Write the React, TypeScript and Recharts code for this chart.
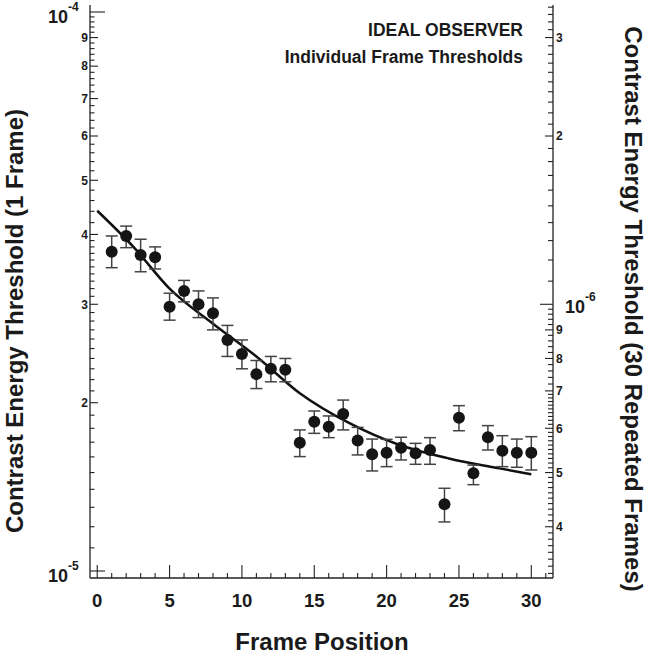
import React from 'react';
import { ComposedChart, Scatter, Line, XAxis, YAxis, ErrorBar } from 'recharts';

// Frame positions (x) and ideal-observer thresholds, in units of 1e-5 (left axis)
const framePositions = [1, 2, 3, 4, 5, 6, 7, 8, 9, 10, 11, 12, 13, 14, 15, 16, 17, 18, 19, 20, 21, 22, 23, 24, 25, 26, 27, 28, 29, 30];
const thresholds = [3.725, 3.975, 3.675, 3.64, 2.97, 3.17, 3.0, 2.89, 2.59, 2.445, 2.25, 2.3, 2.29, 1.696, 1.849, 1.812, 1.909, 1.711, 1.617, 1.628, 1.662, 1.624, 1.646, 1.316, 1.88, 1.496, 1.735, 1.641, 1.628, 1.628];
const upperBounds = [3.975, 4.14, 3.922, 3.8, 3.14, 3.31, 3.17, 3.08, 2.75, 2.59, 2.38, 2.42, 2.4, 1.788, 1.933, 1.894, 2.022, 1.807, 1.722, 1.72, 1.735, 1.692, 1.732, 1.406, 1.976, 1.547, 1.82, 1.746, 1.722, 1.739];
const lowerBounds = [3.488, 3.788, 3.43, 3.47, 2.81, 3.03, 2.84, 2.7, 2.42, 2.3, 2.12, 2.18, 2.18, 1.602, 1.763, 1.732, 1.788, 1.613, 1.51, 1.537, 1.58, 1.552, 1.552, 1.224, 1.782, 1.427, 1.646, 1.537, 1.533, 1.516];

// Fitted curve
const fitPositions = [0, 2.5, 5, 8, 11, 14, 17.4, 20.9, 24.3, 27.8, 30];
const fitThresholds = [4.41, 3.8, 3.2, 2.77, 2.42, 2.08, 1.84, 1.68, 1.59, 1.526, 1.49];

// Axis setup
const xDomain = [-0.5, 31.5];
const xTicks = [0, 1, 2, 3, 4, 5, 6, 7, 8, 9, 10, 11, 12, 13, 14, 15, 16, 17, 18, 19, 20, 21, 22, 23, 24, 25, 26, 27, 28, 29, 30, 31];
const xLabelTicks = [0, 5, 10, 15, 20, 25, 30];

const leftDomain = [0.9716, 10.292]; // units of 1e-5
const leftMajor = [1, 2, 3, 4, 5, 6, 7, 8, 9, 10];
const leftDecades = [1, 10];
const leftDecadeExp: Record<number, string> = { 1: '-5', 10: '-4' };

const REPEAT_FACTOR = 30; // 30 repeated frames; right axis in units of 1e-6
const rightDomain = [leftDomain[0] * 10 / REPEAT_FACTOR, leftDomain[1] * 10 / REPEAT_FACTOR];
const rightMajor = [0.4, 0.5, 0.6, 0.7, 0.8, 0.9, 1, 2, 3];
const rightDecades = [1];
const rightDecadeExp: Record<number, string> = { 1: '-6' };

const steps = (from: number, to: number, step: number) => {
  const out: number[] = [];
  for (let v = from; v <= to + 1e-9; v += step) out.push(Math.round(v * 100) / 100);
  return out;
};

const leftMinor = [
  ...steps(1.1, 1.9, 0.1), ...steps(2.1, 2.9, 0.1), ...steps(3.1, 3.9, 0.1),
  ...steps(4.2, 4.8, 0.2), ...steps(5.2, 5.8, 0.2), ...steps(6.2, 6.8, 0.2),
  ...steps(7.2, 7.8, 0.2), ...steps(8.2, 8.8, 0.2), ...steps(9.2, 9.8, 0.2),
];
const rightMinor = [
  ...steps(0.33, 0.39, 0.01), ...steps(0.41, 0.49, 0.01), ...steps(0.51, 0.59, 0.01),
  ...steps(0.61, 0.69, 0.01), ...steps(0.72, 0.78, 0.02), ...steps(0.82, 0.88, 0.02),
  ...steps(0.92, 0.98, 0.02), ...steps(1.1, 1.9, 0.1), ...steps(2.1, 2.9, 0.1), ...steps(3.1, 3.4, 0.1),
];
const leftTicks = [...leftMajor, ...leftMinor].sort((a, b) => a - b);
const rightTicks = [...rightMajor, ...rightMinor].sort((a, b) => a - b);

const pointData = framePositions.map((x, i) => ({
  x,
  y: thresholds[i],
  err: [thresholds[i] - lowerBounds[i], upperBounds[i] - thresholds[i]],
}));
const fitData = fitPositions.map((x, i) => ({ x, y: fitThresholds[i] }));

const FONT = '"Liberation Sans", Arial, Helvetica, sans-serif';
const INK = '#1a1a1a';
const AXIS = '#222';

const LeftTick = (props: any) => {
  const { x, y, payload } = props;
  const v = payload.value;
  const decade = leftDecades.includes(v);
  const major = leftMajor.includes(v);
  const len = decade ? 15 : major ? 8 : 4.5;
  return (
    <g>
      <line x1={x} x2={x + len} y1={y} y2={y} stroke={AXIS} strokeWidth={1.1} />
      {decade ? (
        <g fontFamily={FONT} fontWeight="bold" fill={INK}>
          <text x={x - 22} y={y + 11} textAnchor="end" fontSize={18}>10</text>
          <text x={x - 22} y={y - 1} fontSize={12}>{leftDecadeExp[v]}</text>
        </g>
      ) : major ? (
        <text x={x - 2} y={y + 4.3} textAnchor="end" fontSize={12} fontFamily={FONT} fontWeight="bold" fill={INK}>{v}</text>
      ) : null}
    </g>
  );
};

const RightTick = (props: any) => {
  const { x, y, payload } = props;
  const v = payload.value;
  const decade = rightDecades.includes(v);
  const major = rightMajor.includes(v);
  const len = decade ? 13 : major ? 8 : 5;
  const label = v < 1 ? String(Math.round(v * 10)) : String(v);
  return (
    <g>
      <line x1={x} x2={x - len} y1={y} y2={y} stroke={AXIS} strokeWidth={1.1} />
      {decade ? (
        <g fontFamily={FONT} fontWeight="bold" fill={INK}>
          <text x={x + 12} y={y + 9} fontSize={18}>10</text>
          <text x={x + 32} y={y - 3} fontSize={12}>{rightDecadeExp[v]}</text>
        </g>
      ) : major ? (
        <text x={x + 3} y={y + 4.3} fontSize={12} fontFamily={FONT} fontWeight="bold" fill={INK}>{label}</text>
      ) : null}
    </g>
  );
};

const BottomTick = (props: any) => {
  const { x, y, payload } = props;
  const v = payload.value;
  const major = xLabelTicks.includes(v);
  return (
    <g>
      <line x1={x} x2={x} y1={y} y2={y - (major ? 13 : 5)} stroke={AXIS} strokeWidth={1.1} />
      {major ? (
        <text x={x} y={y + 29} textAnchor="middle" fontSize={18.5} fontFamily={FONT} fontWeight="bold" fill={INK}>{v}</text>
      ) : null}
    </g>
  );
};

const Dot = (props: any) => <circle cx={props.cx} cy={props.cy} r={6} fill="#151515" />;

export default function App() {
  return (
    <div style={{ position: 'absolute', left: 0, top: 0, width: 648, height: 656, background: '#fff' }}>
      <ComposedChart width={648} height={656} margin={{ top: 5, right: 0, bottom: 0, left: 0 }}>
        <XAxis
          xAxisId="b" dataKey="x" type="number" domain={xDomain} ticks={xTicks} interval={0}
          allowDataOverflow height={78} tickSize={0} tickMargin={0} tick={BottomTick}
          axisLine={{ stroke: AXIS, strokeWidth: 1.3 }} tickLine={false}
        />
        <XAxis
          xAxisId="t" orientation="top" type="number" domain={xDomain} height={0} tick={false}
          axisLine={{ stroke: AXIS, strokeWidth: 1.3 }} tickLine={false} allowDataOverflow
        />
        <YAxis
          yAxisId="l" dataKey="y" type="number" scale="log" domain={leftDomain} allowDataOverflow
          ticks={leftTicks} interval={0} width={90} tickSize={0} tickMargin={0} tick={LeftTick}
          axisLine={{ stroke: AXIS, strokeWidth: 1.3 }} tickLine={false}
        />
        <YAxis
          yAxisId="r" orientation="right" type="number" scale="log" domain={rightDomain} allowDataOverflow
          ticks={rightTicks} interval={0} width={95} tickSize={0} tickMargin={0} tick={RightTick}
          axisLine={{ stroke: AXIS, strokeWidth: 1.3 }} tickLine={false}
        />
        <Line
          data={fitData} xAxisId="b" yAxisId="l" dataKey="y" type="monotone" dot={false}
          stroke="#111" strokeWidth={2.5} isAnimationActive={false} activeDot={false}
        />
        <Scatter data={pointData} xAxisId="b" yAxisId="l" dataKey="y" shape={Dot} isAnimationActive={false}>
          <ErrorBar dataKey="err" direction="y" width={6} stroke="#444" strokeWidth={1.5} />
        </Scatter>
      </ComposedChart>
      <svg width={648} height={656} style={{ position: 'absolute', left: 0, top: 0, pointerEvents: 'none' }}>
        <g fontFamily={FONT} fontWeight="bold" fill={INK}>
          <text x={23} y={321} fontSize={24} textAnchor="middle" transform="rotate(-90 23 321)">Contrast Energy Threshold (1 Frame)</text>
          <text x={625} y={309} fontSize={24} textAnchor="middle" transform="rotate(90 625 309)">Contrast Energy Threshold (30 Repeated Frames)</text>
          <text x={322} y={650} fontSize={24} textAnchor="middle">Frame Position</text>
          <text x={523} y={36} fontSize={17.5} textAnchor="end">IDEAL OBSERVER</text>
          <text x={523} y={63} fontSize={17.5} textAnchor="end">Individual Frame Thresholds</text>
        </g>
      </svg>
    </div>
  );
}
